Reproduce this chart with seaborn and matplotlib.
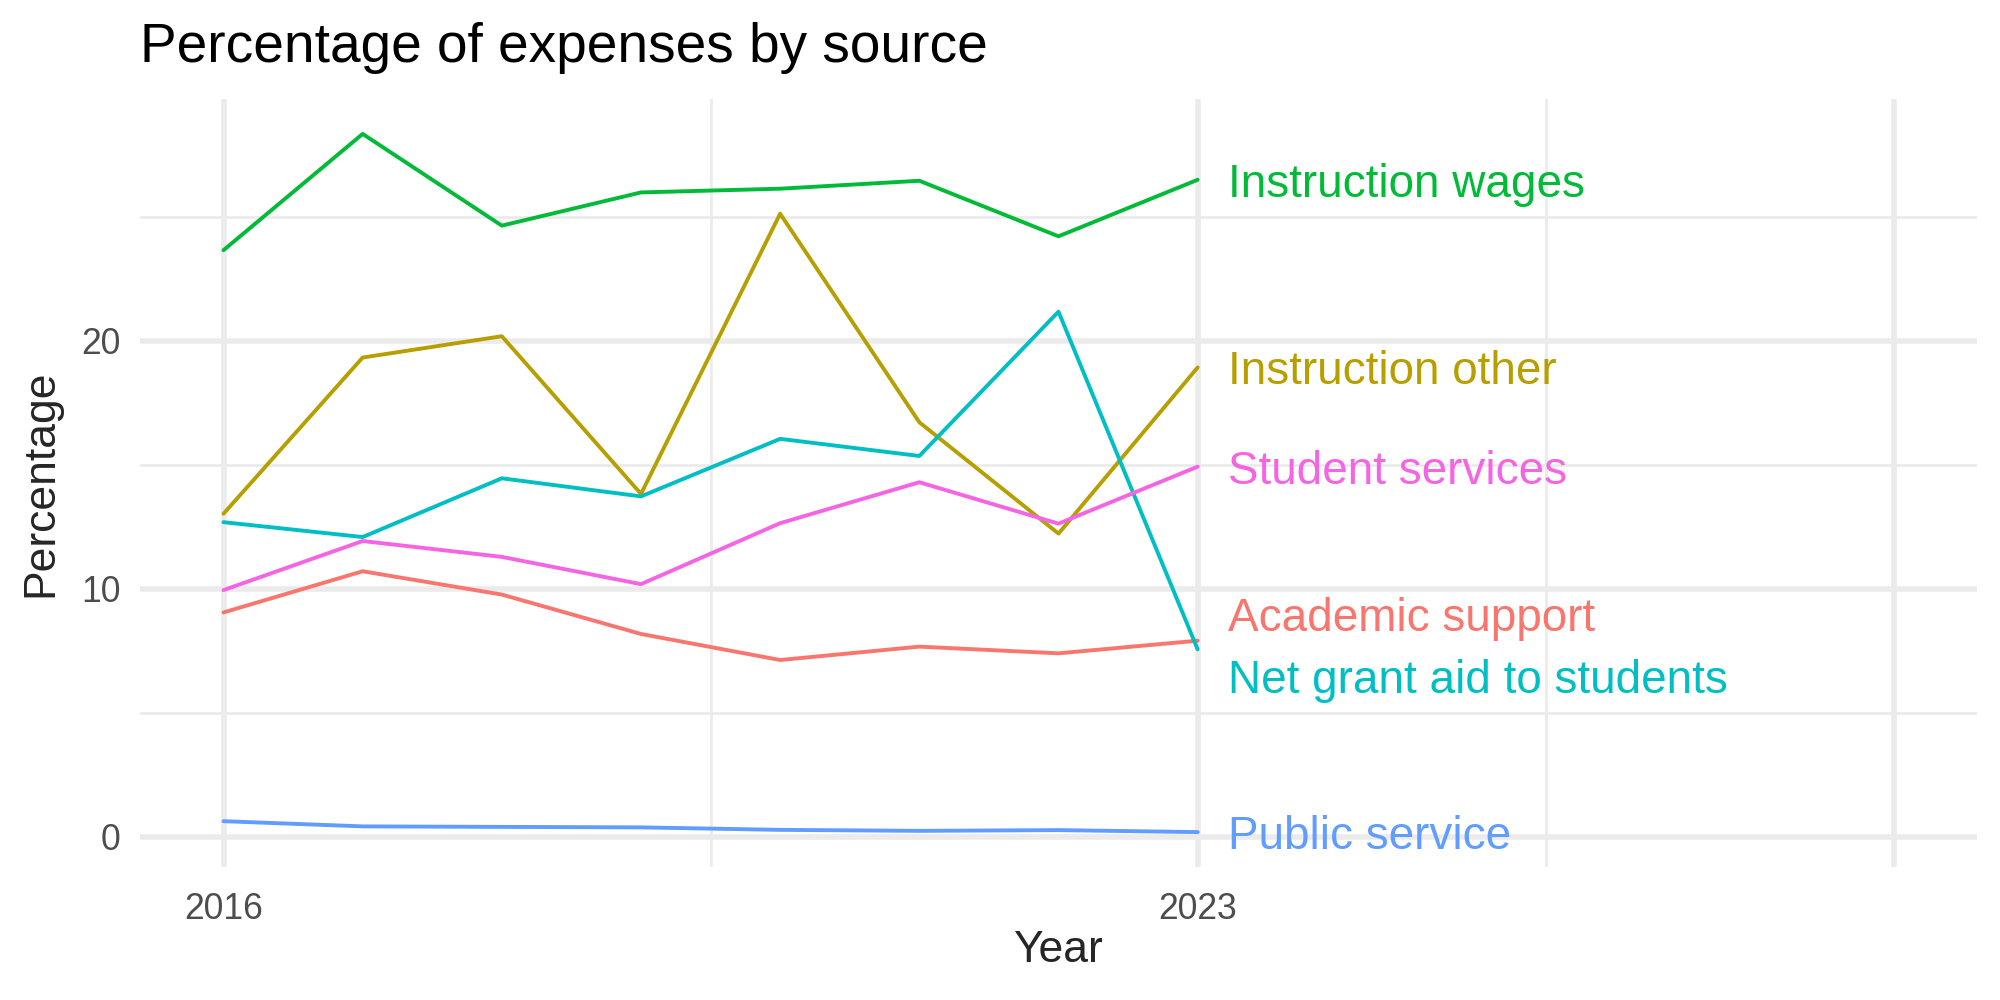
import numpy as np
import pandas as pd
import matplotlib.pyplot as plt
import seaborn as sns

# values
years = [2016, 2017, 2018, 2019, 2020, 2021, 2022, 2023]
academic_support = [9.05, 10.71, 9.77, 8.18, 7.13, 7.67, 7.40, 7.91]
instruction_other = [13.03, 19.33, 20.19, 13.83, 25.13, 16.72, 12.23, 18.93]
instruction_wages = [23.66, 28.35, 24.65, 25.99, 26.14, 26.46, 24.22, 26.50]
net_grant_aid = [12.69, 12.09, 14.46, 13.73, 16.05, 15.36, 21.18, 7.56]
public_service = [0.63, 0.42, 0.40, 0.38, 0.28, 0.24, 0.27, 0.19]
student_services = [9.95, 11.93, 11.29, 10.19, 12.65, 14.30, 12.63, 14.93]

sources = ["Academic support", "Instruction other", "Instruction wages",
           "Net grant aid to students", "Public service", "Student services"]
series = [academic_support, instruction_other, instruction_wages,
          net_grant_aid, public_service, student_services]
colors = ["#F8766D", "#B79F00", "#00BA38", "#00BFC4", "#619CFF", "#F564E3"]

df = pd.DataFrame({
    "Year": years * len(sources),
    "Percentage": [v for s in series for v in s],
    "Source": [name for name in sources for _ in years],
})

sns.set_theme(style="white")
plt.rcParams['font.family'] = ['Liberation Sans', 'DejaVu Sans']

fig = plt.figure(figsize=(10, 5), dpi=200)
ax = fig.add_axes([0.07, 0.133, 0.9185, 0.768])

sns.lineplot(data=df, x="Year", y="Percentage", hue="Source",
             palette=dict(zip(sources, colors)), linewidth=1.4,
             legend=False, ax=ax, zorder=3)

# axis ranges like ggplot (5% expansion), x extended for the labels
ax.set_xlim(2016 - 0.6, 2028 + 0.6)
lo, hi = df["Percentage"].min(), df["Percentage"].max()
pad = 0.05 * (hi - lo)
ax.set_ylim(lo - pad, hi + pad)

ax.set_xticks([2016, 2023, 2028])
ax.set_xticklabels(["2016", "2023", ""])
ax.set_xticks([2019.5, 2025.5], minor=True)
ax.set_yticks([0, 10, 20])
ax.set_yticks([5, 15, 25], minor=True)

ax.grid(which="major", color="#EBEBEB", linewidth=2.0, zorder=0)
ax.grid(which="minor", color="#EBEBEB", linewidth=1.0, zorder=0)
ax.set_axisbelow(True)
ax.tick_params(which="both", length=0, labelsize=12.8, colors="#4D4D4D")
ax.tick_params(axis="x", pad=9)
ax.tick_params(axis="y", pad=7)
for sp in ax.spines.values():
    sp.set_visible(False)
ax.set_xlabel("")
ax.set_ylabel("")

# end labels, pushed apart where they collide
ends = [s[-1] for s in series]
order = np.argsort(ends)
label_y = np.array(ends, dtype=float)
gap = 2.5
for _ in range(50):
    for a, b in zip(order[:-1], order[1:]):
        d = label_y[b] - label_y[a]
        if d < gap:
            shift = (gap - d) / 2
            label_y[a] -= shift
            label_y[b] += shift
for name, col, yl in zip(sources, colors, label_y):
    ax.text(2023.22, yl, name, color=col, fontsize=16.5, ha="left",
            va="center_baseline")

fig.text(0.07, 0.952, "Percentage of expenses by source", fontsize=19.8,
         ha="left", va="center", color="black")
fig.text(0.529, 0.05, "Year", fontsize=16, ha="center", va="center")
fig.text(0.0205, 0.517, "Percentage", fontsize=16, ha="center", va="center",
         rotation=90)

fig.savefig("out.png", dpi=200)
